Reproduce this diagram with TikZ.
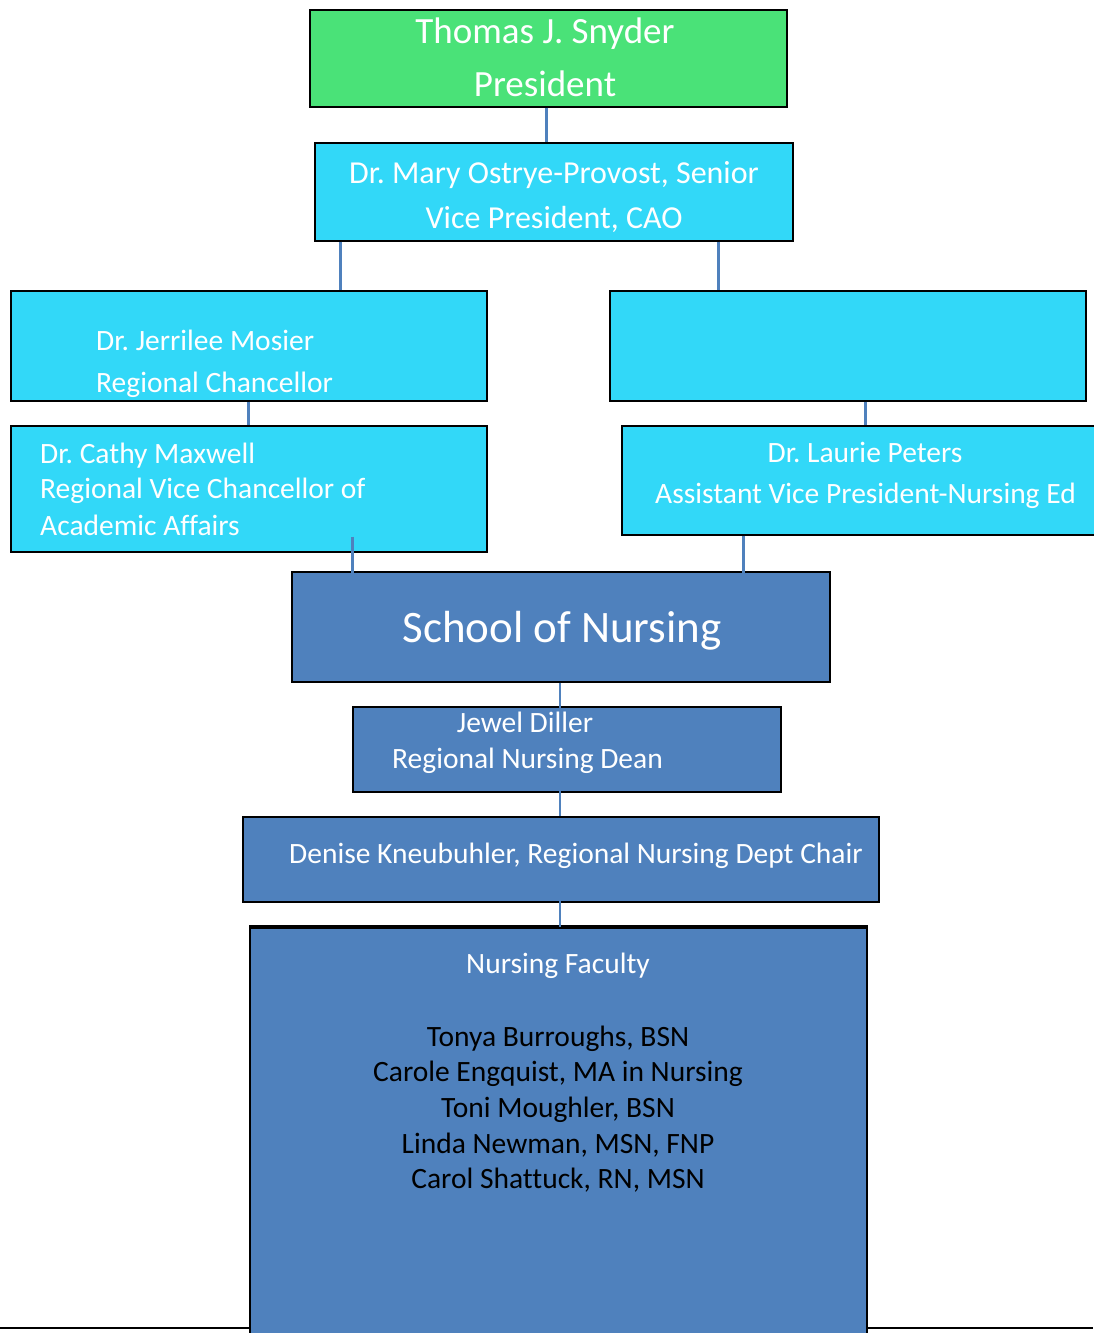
\documentclass[tikz,border=0pt]{standalone}
\usepackage{fontspec}
\setmainfont{Carlito}[Ligatures=CommonOff]
\frenchspacing
\definecolor{presgreen}{RGB}{74,226,120}
\definecolor{admincyan}{RGB}{50,216,248}
\definecolor{nursblue}{RGB}{79,129,189}
\definecolor{linkblue}{RGB}{79,129,189}
\begin{document}
\begin{tikzpicture}[x=1pt,y=-1pt,
  box/.style={draw=black,line width=1.6pt,inner sep=0pt,anchor=north west},
  link/.style={draw=linkblue,line width=3pt},
  txt/.style={text=white,inner sep=0pt,font=\fontsize{29.5}{36}\selectfont},
  names/.style={text=black,inner sep=0pt,anchor=base,font=\fontsize{29.5}{36}\selectfont},
]
\useasboundingbox (0,0) rectangle (1093,1333);

% rule along the foot of the page
\draw[line width=1.6pt] (0,1328) coordinate (ruleL) -- (1093,1328) coordinate (ruleR);

% boxes
\node[box,fill=presgreen,minimum width=477pt,minimum height=97pt] (thomas) at (309,9) {};
\node[box,fill=admincyan,minimum width=478pt,minimum height=98pt] (mary) at (314,142) {};
\node[box,fill=admincyan,minimum width=476pt,minimum height=110pt] (jerr) at (10,290) {};
\node[box,fill=admincyan,minimum width=476pt,minimum height=110pt] (vpbox) at (609,290) {};
\node[box,fill=admincyan,minimum width=476pt,minimum height=126pt] (cathy) at (10,425) {};
\node[box,fill=admincyan,minimum width=479pt,minimum height=109pt] (laurie) at (621,425) {};
\node[box,fill=nursblue,minimum width=538pt,minimum height=110pt] (school) at (291,571) {};
\node[box,fill=nursblue,minimum width=428pt,minimum height=85pt] (jewel) at (352,706) {};
\node[box,fill=nursblue,minimum width=636pt,minimum height=85pt] (denise) at (242,816) {};
\node[box,fill=nursblue,minimum width=617pt,minimum height=418pt] (faculty) at (249,927) {};
\draw[line width=3.2pt] (faculty.north west) -- (faculty.north east);

% connector columns
\coordinate (xa) at (546,0);
\coordinate (xb) at (340,0);
\coordinate (xc) at (718,0);
\coordinate (xd) at (248,0);
\coordinate (xe) at (865,0);
\coordinate (xf) at (352,0);
\coordinate (xg) at (743,0);
\coordinate (xh) at (560,0);

% connectors
\draw[link] (thomas.south -| xa) -- (mary.north -| xa);
\draw[link] (mary.south -| xb) -- (jerr.north -| xb);
\draw[link] (mary.south -| xc) -- (vpbox.north -| xc);
\draw[link] (jerr.south -| xd) -- (cathy.north -| xd);
\draw[link] (vpbox.south -| xe) -- (laurie.north -| xe);
\draw[link] ([yshift=16pt]cathy.south -| xf) -- ([yshift=-18pt]school.north -| xf);
\draw[link] (laurie.south -| xg) -- ([yshift=-18pt]school.north -| xg);
\draw[link,line width=2.4pt] (school.south -| xh) -- (denise.north -| xh);
\draw[link,line width=2.4pt] ([yshift=12pt]denise.south -| xh) -- (faculty.north -| xh);

% texts
\node[txt,anchor=base,font=\fontsize{37}{44}\selectfont] (thomasA) at (545,43) {Thomas J. Snyder};
\node[txt,anchor=base,font=\fontsize{37}{44}\selectfont] (thomasB) at (545,96) {President};
\node[txt,anchor=base,font=\fontsize{32}{40}\selectfont] (maryA) at (554,183) {Dr. Mary Ostrye-Provost, Senior};
\node[txt,anchor=base,font=\fontsize{32}{40}\selectfont] (maryB) at (554,228) {Vice President, CAO};
\node[txt,anchor=base west] (jerrA) at (96,350) {Dr. Jerrilee Mosier};
\node[txt,anchor=base west] (jerrB) at (96,392) {Regional Chancellor};
\node[txt,anchor=base west] (cathyA) at (40,463) {Dr. Cathy Maxwell};
\node[txt,anchor=base west] (cathyB) at (40,498) {Regional Vice Chancellor of};
\node[txt,anchor=base west] (cathyC) at (40,535) {Academic Affairs};
\node[txt,anchor=base] (laurieA) at (865,462) {Dr. Laurie Peters};
\node[txt,anchor=base] (laurieB) at (865.5,503) {Assistant Vice President-Nursing Ed};
\node[txt,anchor=base,font=\fontsize{45}{54}\selectfont] (schoolT) at (562,642) {School of Nursing};
\node[txt,anchor=base] (jewelA) at (525,732) {Jewel Diller};
\node[txt,anchor=base west] (jewelB) at (392,768) {Regional Nursing Dean};
\node[txt,anchor=base west] (deniseT) at (289,863) {Denise Kneubuhler, Regional Nursing Dept Chair};
\node[txt,anchor=base] (facT) at (558,973) {Nursing Faculty};
\node[names] (fac1) at (558,1046) {Tonya Burroughs, BSN};
\node[names] (fac2) at (558,1081.5) {Carole Engquist, MA in Nursing};
\node[names] (fac3) at (558,1117) {Toni Moughler, BSN};
\node[names] (fac4) at (558,1153) {Linda Newman, MSN, FNP};
\node[names] (fac5) at (558,1188) {Carol Shattuck, RN, MSN};
\end{tikzpicture}
\end{document}
